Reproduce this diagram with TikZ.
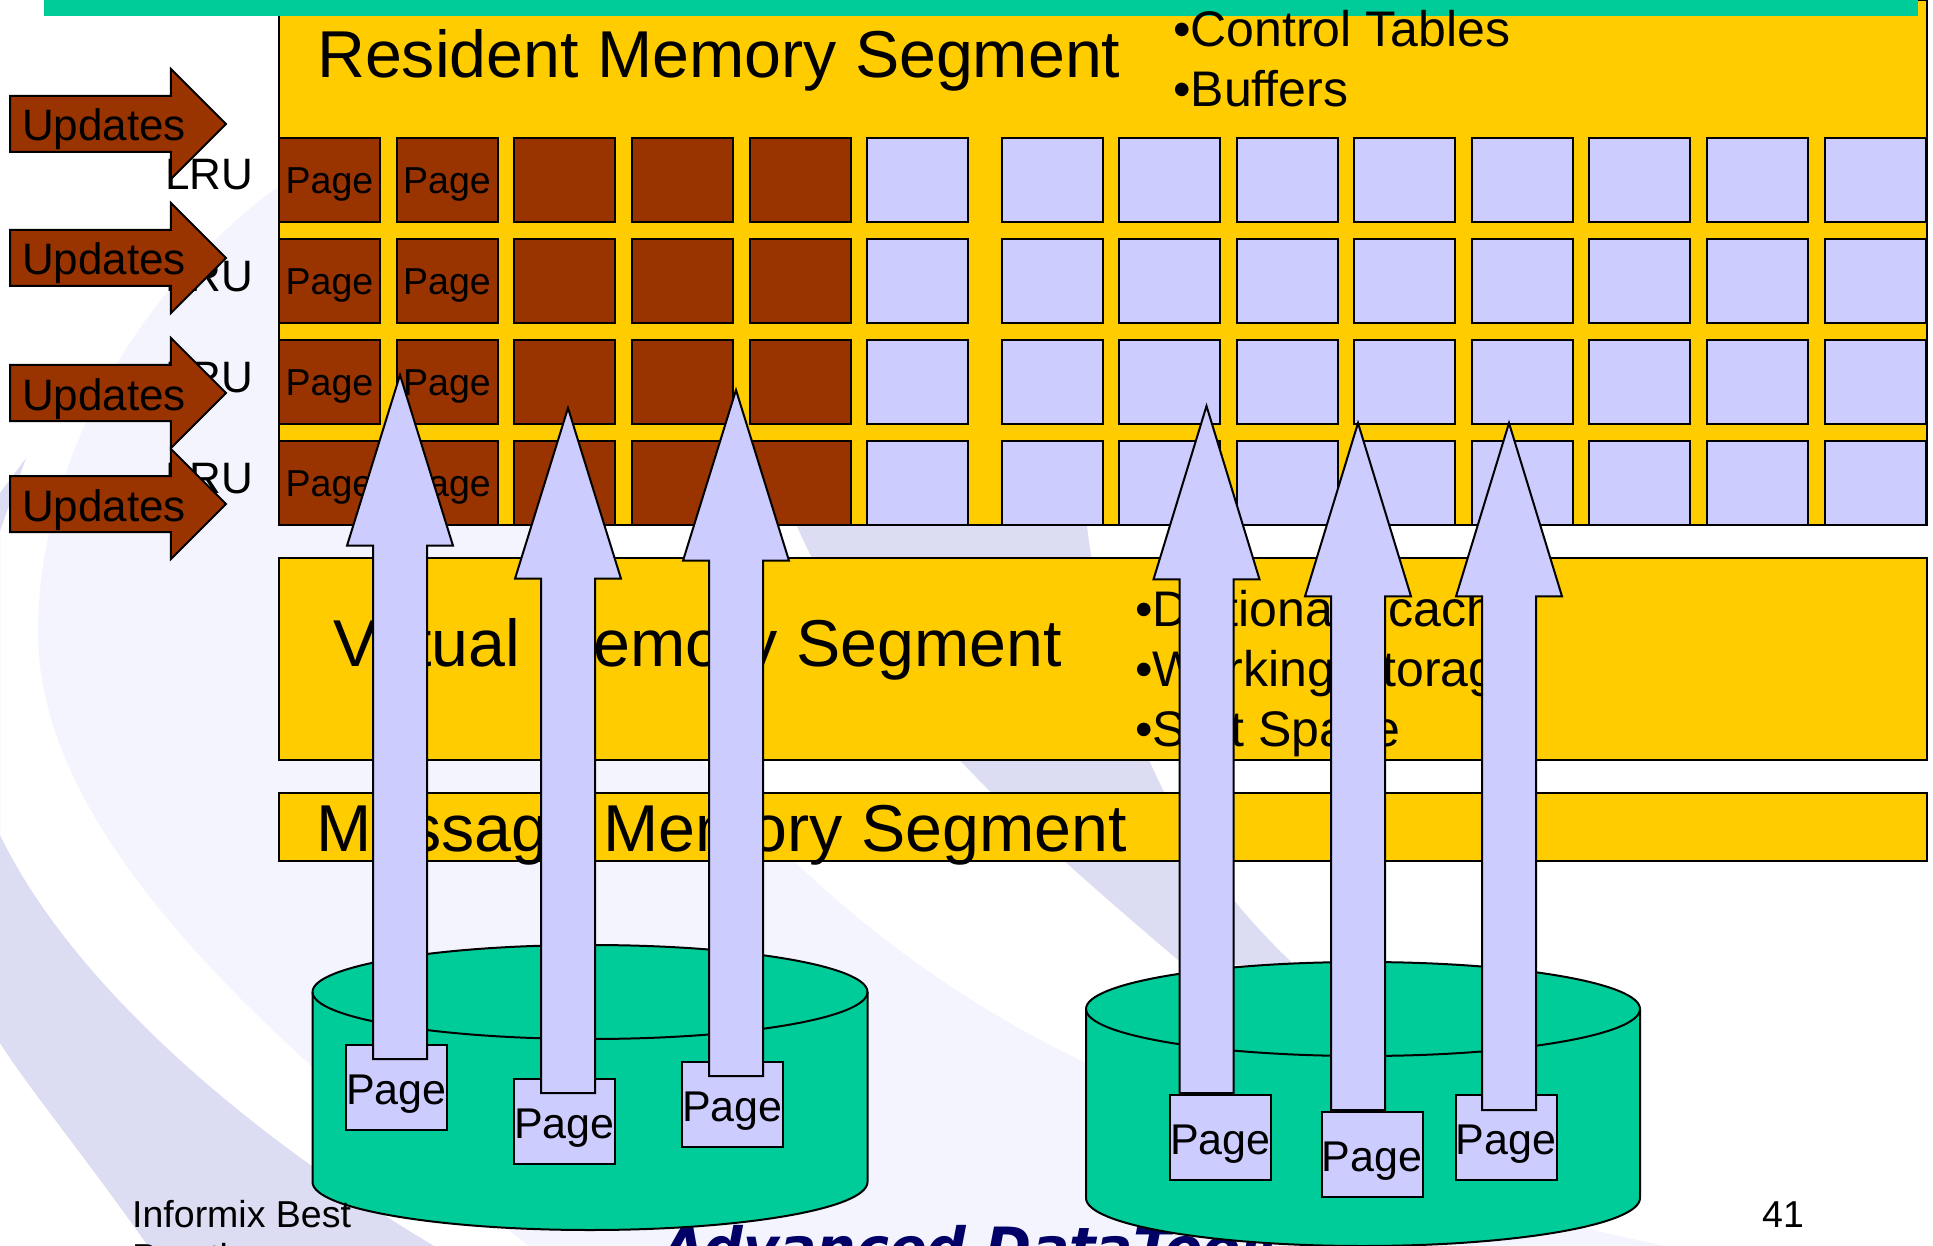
\documentclass[tikz,border=0pt]{standalone}
\usepackage{fontspec}
\setmainfont{Liberation Sans}
\newfontfamily\logofont{DejaVu Sans}
\usetikzlibrary{shapes.arrows}
\definecolor{bandpale}{HTML}{F4F4FE}
\definecolor{banddark}{HTML}{DCDCF2}
\definecolor{brickred}{HTML}{993300}
\definecolor{segyellow}{HTML}{FFCC00}
\definecolor{diskgreen}{HTML}{00CC99}
\definecolor{pagelilac}{HTML}{CCCCFF}
\definecolor{logonavy}{HTML}{000066}
\tikzset{
  segbox/.style={draw, line width=2pt, fill=segyellow, anchor=north west, inner sep=0pt, outer sep=0pt},
  bigtext/.style={anchor=base west, inner sep=0pt, font=\fontsize{66.3}{66}\selectfont},
  listtext/.style={anchor=base west, inner sep=0pt, font=\fontsize{50}{50}\selectfont},
  lrutext/.style={anchor=base east, inner sep=0pt, font=\fontsize{44}{44}\selectfont},
  footertext/.style={inner sep=0pt, font=\fontsize{37.5}{43}\selectfont},
  cellbox/.style={draw, line width=2pt, inner sep=0pt, outer sep=0pt, minimum width=101pt, minimum height=84pt, text height=33pt, text depth=6pt, font=\fontsize{37.5}{37.5}\selectfont},
  diskpage/.style={draw, line width=2pt, fill=pagelilac, inner sep=0pt, outer sep=0pt, minimum width=101pt, minimum height=85pt, text height=41pt, text depth=7pt, font=\fontsize{43}{43}\selectfont},
  updatesarrow/.style={single arrow, draw, line width=2pt, fill=brickred, anchor=tail, inner xsep=0pt, inner ysep=0pt, outer sep=0pt, single arrow tip angle=90, single arrow head extend=27pt, minimum height=216pt, text height=44pt, text depth=10pt, font=\fontsize{44}{44}\selectfont},
  readarrow/.style={single arrow, draw, line width=2pt, fill=pagelilac, anchor=tail, rotate=90, inner sep=0pt, outer sep=0pt, single arrow tip angle=34.5, single arrow head extend=26pt, text height=52pt, text depth=0pt, text width=1pt},
  disk/.style={draw, line width=2pt, fill=diskgreen}
}
\begin{document}
\begin{tikzpicture}[x=1pt, y=-1pt]
  \useasboundingbox (0,0) rectangle (1933,1246);
  \clip (0,0) rectangle (1933,1246);
  \fill[bandpale] (290,178) .. controls (130,290) and (38,470) .. (38,632) .. controls (38,830) and (250,1030) .. (529,1246) -- (1665,1246) .. controls (1450,1200) and (1250,1141) .. (1086,1063) .. controls (850,950) and (660,760) .. (540,500) -- (540,178) -- cycle;
  \fill[banddark] (26,458) -- (0,531) -- (0,835) .. controls (70,980) and (240,1130) .. (434,1246) -- (148,1246) .. controls (80,1150) and (30,1090) .. (0,1043) -- (0,493) -- cycle;
  \fill[banddark] (790,510) .. controls (860,680) and (990,800) .. (1178,960) -- (1300,970) .. controls (1190,870) and (1110,730) .. (1085,510) -- cycle;
  \node[anchor=base west, inner sep=0pt, text=logonavy, font=\logofont\bfseries\itshape\fontsize{55.5}{55.5}\selectfont] (logo) at (662,1267) {Advanced DataTools};
  \node[segbox, minimum width=1648pt, minimum height=525pt] (resident) at (279,0) {};
  \node[segbox, minimum width=1648pt, minimum height=202pt] (virtual) at (279,558) {};
  \node[segbox, minimum width=1648pt, minimum height=68pt] (message) at (279,793) {};
  \node[draw=none, fill=diskgreen, anchor=north west, minimum width=1874pt, minimum height=16pt, inner sep=0pt] (topbar) at (44,0) {};
  \node[bigtext] (residenttext) at (317,78) {Resident Memory Segment};
  \node[bigtext] (virtualtext) at (333,666) {Virtual Memory Segment};
  \node[bigtext] (messagetext) at (316,851) {Message Memory Segment};
  \node[listtext] (controltext) at (1173,47) {•Control Tables};
  \node[listtext] (bufferstext) at (1173,107) {•Buffers};
  \node[listtext] (dicttext) at (1135,626) {•Dictionary cache};
  \node[listtext] (worktext) at (1135,686) {•Working Storage};
  \node[listtext] (sorttext) at (1135,746) {•Sort Space};
  \foreach \r/\y/\b in {1/180/190, 2/281/292, 3/382/392, 4/483/493} {
    \node[lrutext] (lru\r) at (253.5,\b) {LRU};
    \foreach \c/\x in {1/329.5, 2/447} \node[cellbox, fill=brickred] (cell\r\c) at (\x,\y) {Page};
    \foreach \c/\x in {3/564, 4/682, 5/800} \node[cellbox, fill=brickred] (cell\r\c) at (\x,\y) {};
    \foreach \c/\x in {6/917, 7/1052, 8/1169, 9/1287, 10/1404.5, 11/1522, 12/1639.5, 13/1757, 14/1875} \node[cellbox, fill=pagelilac] (cell\r\c) at (\x,\y) {};
  }
  \node[updatesarrow] (updates1) at (10,124) {Updates};
  \node[updatesarrow] (updates2) at (10,258) {Updates};
  \node[updatesarrow] (updates3) at (10,393) {Updates};
  \node[updatesarrow] (updates4) at (10,504) {Updates};
  \draw[disk] (312.5,992) -- (312.5,1182) arc[start angle=180, end angle=360, x radius=277.5pt, y radius=48pt] -- (867.5,992) arc[start angle=0, end angle=180, x radius=277.5pt, y radius=47pt] -- cycle;
  \draw[line width=2pt] (312.5,992) arc[start angle=180, end angle=360, x radius=277.5pt, y radius=47pt];
  \draw[disk] (1086,1009) -- (1086,1198) arc[start angle=180, end angle=360, x radius=277pt, y radius=48pt] -- (1640,1009) arc[start angle=0, end angle=180, x radius=277pt, y radius=47pt] -- cycle;
  \draw[line width=2pt] (1086,1009) arc[start angle=180, end angle=360, x radius=277pt, y radius=47pt];
  \node[diskpage] (pagea) at (396.5,1087) {Page};
  \node[diskpage] (pageb) at (564.5,1121) {Page};
  \node[diskpage] (pagec) at (732.5,1104) {Page};
  \node[diskpage] (paged) at (1220.5,1137) {Page};
  \node[diskpage] (pagee) at (1372,1154) {Page};
  \node[diskpage] (pagef) at (1506,1137) {Page};
  \node[readarrow, minimum height=684pt] (reada) at (400,1059) {};
  \node[readarrow, minimum height=685pt] (readb) at (568,1093) {};
  \node[readarrow, minimum height=686pt] (readc) at (736,1076) {};
  \node[readarrow, minimum height=687pt, single arrow tip angle=34] (readd) at (1206.5,1093) {};
  \node[readarrow, minimum height=687pt, single arrow tip angle=34] (reade) at (1358,1110) {};
  \node[readarrow, minimum height=687pt, single arrow tip angle=34] (readf) at (1509,1110) {};
  \node[footertext, anchor=base west] (footer) at (132,1227) {Informix Best};
  \node[footertext, anchor=base west] (footer2) at (132,1270) {Practices};
  \node[footertext, anchor=base west] (pagenum) at (1762,1227) {41};
\end{tikzpicture}
\end{document}
